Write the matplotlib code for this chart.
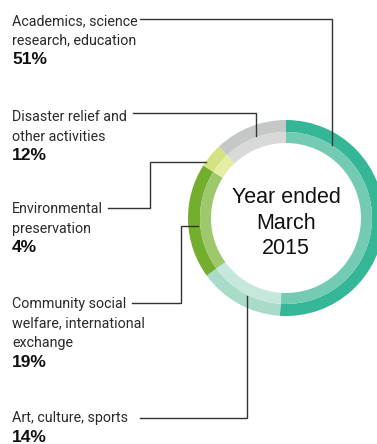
import matplotlib.pyplot as plt

# donation breakdown, year ended March 2015
categories = ["Academics, science\nresearch, education",
              "Art, culture, sports",
              "Community social\nwelfare, international\nexchange",
              "Environmental\npreservation",
              "Disaster relief and\nother activities"]
shares = [51, 14, 19, 4, 12]
outer_colors = ["#35b797", "#a9dbc9", "#74ae2f", "#d5e283", "#c6c8c8"]
inner_colors = ["#73cbb4", "#c6e7db", "#9dc86b", "#e6eea6", "#d9d9d9"]

W, H = 377, 444
fig = plt.figure(figsize=(W / 100, H / 100), dpi=100)
ax = fig.add_axes([0, 0, 1, 1])

cx, cy = 286, H - 218
ax.pie(shares, radius=98, center=(cx, cy), startangle=90, counterclock=False,
       colors=outer_colors, wedgeprops=dict(width=12, linewidth=0))
ax.pie(shares, radius=86, center=(cx, cy), startangle=90, counterclock=False,
       colors=inner_colors, wedgeprops=dict(width=11, linewidth=0))
ax.set_xlim(0, W)
ax.set_ylim(0, H)
ax.set_aspect("equal")
ax.axis("off")

ax.text(cx, H - 223, "Year ended\nMarch\n2015", ha="center", va="center",
        fontsize=15.5, family=["Liberation Sans", "DejaVu Sans"],
        linespacing=1.3, color="#111111")

label_font = ["Roboto", "DejaVu Sans"]

# label blocks: first baseline (from top), leader path (x, y from top)
blocks = [
    (25, [(140, 19), (332, 19), (332, 145)]),
    (422, [(140, 418), (247, 418), (247, 296)]),
    (308, [(132, 303), (181, 303), (181, 226), (198, 226)]),
    (213, [(108, 208), (150, 208), (150, 162), (206, 162)]),
    (121, [(133, 113), (256, 113), (256, 136)]),
]
step = 19.6
for name, pct, (base, path) in zip(categories, shares, blocks):
    lines = name.split("\n")
    for i, ln in enumerate(lines):
        ax.text(12, H - (base + i * step), ln, ha="left", va="baseline",
                fontsize=10.3, family=label_font, color="#2a2a2a")
    ax.text(12, H - (base + len(lines) * step), f"{pct}%", ha="left",
            va="baseline", fontsize=12.5, fontweight="bold",
            family=["Liberation Sans", "DejaVu Sans"], color="#111111")
    xs = [p[0] for p in path]
    ys = [H - p[1] for p in path]
    ax.plot(xs, ys, color="#333333", lw=1.0, solid_joinstyle="miter")

fig.savefig("out.png", dpi=100)
